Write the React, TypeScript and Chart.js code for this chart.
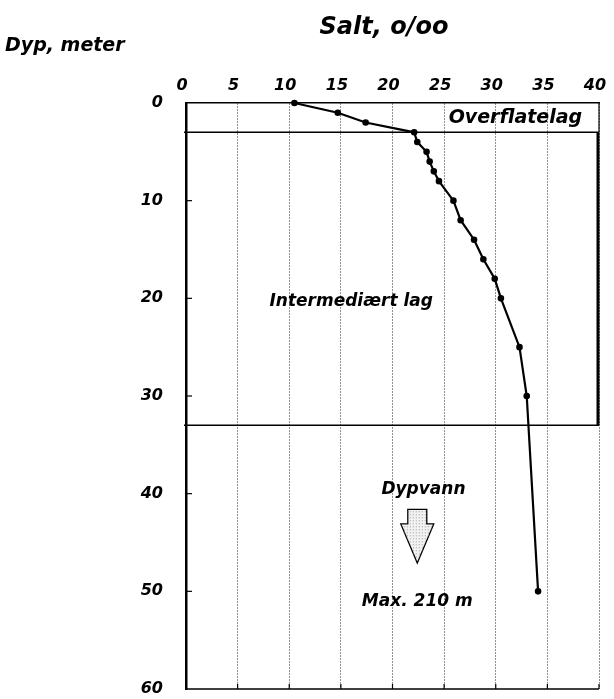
import React, { useEffect, useRef } from "react";
import { Chart, registerables } from "chart.js";

Chart.register(...registerables);

// Salinity profile (depth in metres, salinity in o/oo)
const depths = [0, 1, 2, 3, 4, 5, 6, 7, 8, 10, 12, 14, 16, 18, 20, 25, 30, 50];
const salinity = [10.5, 14.7, 17.4, 22.1, 22.4, 23.3, 23.6, 24.0, 24.5, 25.9, 26.6, 27.9, 28.8, 29.9, 30.5, 32.3, 33.0, 34.1];

const saltMin = 0;
const saltMax = 40;
const saltStep = 5;
const depthMin = 0;
const depthMax = 60;
const depthStep = 10;

// Layer boundaries (depth, m)
const layerBoundaries = [3, 33];
const layerNames = ["Overflatelag", "Intermediært lag", "Dypvann"];
const maxDepthLabel = "Max. 210 m";
const xTitle = "Salt, o/oo";
const yTitle = "Dyp, meter";

const FONT = "'DejaVu Sans', sans-serif";

export default function App() {
  const ref = useRef<HTMLCanvasElement | null>(null);

  useEffect(() => {
    const canvas = ref.current;
    if (!canvas) return;

    const overlay = {
      id: "overlay",
      beforeDatasetsDraw(chart: any) {
        const { ctx, chartArea: a, scales } = chart;
        const xs = scales.x;
        const ys = scales.y;
        ctx.save();
        ctx.strokeStyle = "#000";
        // bottom axis line
        ctx.lineWidth = 1.5;
        ctx.beginPath();
        ctx.moveTo(a.left, a.bottom);
        ctx.lineTo(a.right, a.bottom);
        ctx.stroke();
        // short solid ticks at bottom for each grid line
        ctx.lineWidth = 1.2;
        for (let v = saltMin + saltStep; v <= saltMax; v += saltStep) {
          const px = xs.getPixelForValue(v);
          ctx.beginPath();
          ctx.moveTo(px, a.bottom);
          ctx.lineTo(px, a.bottom - 5);
          ctx.stroke();
        }
        // inward ticks on depth axis
        ctx.lineWidth = 1.2;
        for (let d = depthMin + depthStep; d < depthMax; d += depthStep) {
          const py = ys.getPixelForValue(d);
          ctx.beginPath();
          ctx.moveTo(a.left, py);
          ctx.lineTo(a.left + 6, py);
          ctx.stroke();
        }
        // layer boundary lines
        ctx.lineWidth = 1.5;
        layerBoundaries.forEach((d) => {
          const py = ys.getPixelForValue(d);
          ctx.beginPath();
          ctx.moveTo(a.left - 2, py);
          ctx.lineTo(a.right, py);
          ctx.stroke();
        });
        // top right edge thin, intermediate box thick
        ctx.lineWidth = 1.2;
        ctx.beginPath();
        ctx.moveTo(a.right, ys.getPixelForValue(depthMin));
        ctx.lineTo(a.right, ys.getPixelForValue(layerBoundaries[0]));
        ctx.stroke();
        ctx.lineWidth = 3;
        ctx.beginPath();
        ctx.moveTo(a.right - 1, ys.getPixelForValue(layerBoundaries[0]));
        ctx.lineTo(a.right - 1, ys.getPixelForValue(layerBoundaries[1]));
        ctx.stroke();
        ctx.restore();
      },
      afterDraw(chart: any) {
        const { ctx, scales } = chart;
        const xs = scales.x;
        const ys = scales.y;
        ctx.save();
        ctx.fillStyle = "#000";
        ctx.textBaseline = "middle";
        // titles
        ctx.font = `italic bold 24px ${FONT}`;
        ctx.textAlign = "center";
        ctx.fillText(xTitle, 384, 28);
        ctx.font = `italic bold 19px ${FONT}`;
        ctx.textAlign = "left";
        ctx.fillText(yTitle, 5, 46);

        // annotations
        ctx.font = `italic bold 19px ${FONT}`;
        ctx.textAlign = "center";
        ctx.fillText(layerNames[0], xs.getPixelForValue(31.9), ys.getPixelForValue(1.55));
        ctx.font = `italic bold 17px ${FONT}`;
        ctx.fillText(layerNames[1], xs.getPixelForValue(16.0), ys.getPixelForValue(20.3));
        ctx.fillText(layerNames[2], xs.getPixelForValue(23.0), ys.getPixelForValue(39.6));
        ctx.fillText(maxDepthLabel, xs.getPixelForValue(22.4), ys.getPixelForValue(51.0));

        // arrow
        const cx = xs.getPixelForValue(22.4);
        const top = ys.getPixelForValue(41.6);
        const headY = ys.getPixelForValue(43.1);
        const tip = ys.getPixelForValue(47.1);
        const sw = 9.5;
        const hw = 16.5;
        ctx.beginPath();
        ctx.moveTo(cx - sw, top);
        ctx.lineTo(cx + sw, top);
        ctx.lineTo(cx + sw, headY);
        ctx.lineTo(cx + hw, headY);
        ctx.lineTo(cx, tip);
        ctx.lineTo(cx - hw, headY);
        ctx.lineTo(cx - sw, headY);
        ctx.closePath();
        ctx.fillStyle = "#f2f2f2";
        ctx.fill();
        ctx.lineWidth = 1.3;
        ctx.strokeStyle = "#000";
        ctx.stroke();
        // dotted fill texture
        ctx.save();
        ctx.clip();
        ctx.fillStyle = "#9a9a9a";
        for (let yy = top + 2; yy < tip; yy += 3) {
          for (let xx = cx - hw; xx < cx + hw; xx += 3) {
            ctx.fillRect(xx, yy, 1, 1);
          }
        }
        ctx.restore();
        ctx.restore();
      },
    };

    const chart = new Chart(canvas, {
      type: "scatter",
      data: {
        datasets: [
          {
            data: depths.map((d, i) => ({ x: salinity[i], y: d })),
            showLine: true,
            borderColor: "#000",
            backgroundColor: "#000",
            borderWidth: 2.2,
            pointRadius: 2.2,
            pointBackgroundColor: "#000",
            pointBorderColor: "#000",
            clip: false as any,
          },
        ],
      },
      options: {
        animation: false,
        responsive: false,
        events: [],
        layout: { padding: { left: 0, top: 0, right: 15, bottom: 10 } },
        plugins: {
          legend: { display: false },
          tooltip: { enabled: false },
          title: { display: false },
        },
        scales: {
          x: {
            type: "linear",
            position: "top",
            min: saltMin,
            max: saltMax,
            ticks: {
              stepSize: saltStep,
              color: "#000",
              padding: 8,
              labelOffset: -4,
              maxRotation: 0,
              font: { family: FONT, size: 16, weight: "bold", style: "italic" },
            },
            grid: {
              drawTicks: false,
              color: "#222",
              lineWidth: 1,
            },
            border: { display: true, color: "#000", width: 1.5, dash: [1, 2] },
            afterFit: (s: any) => {
              s.height = 103;
              s.paddingLeft = 0;
              s.paddingRight = 0;
            },
          },
          y: {
            type: "linear",
            reverse: true,
            min: depthMin,
            max: depthMax,
            ticks: {
              stepSize: depthStep,
              color: "#000",
              padding: 23,
              font: { family: FONT, size: 16, weight: "bold", style: "italic" },
            },
            grid: { display: true, drawOnChartArea: false, drawTicks: false },
            border: { display: true, color: "#000", width: 2.5 },
            afterFit: (s: any) => {
              s.width = 186;
              s.paddingTop = 0;
              s.paddingBottom = 0;
            },
          },
        },
      } as any,
      plugins: [overlay],
    });

    return () => chart.destroy();
  }, []);

  return (
    <canvas
      ref={ref}
      width={614}
      height={699}
      style={{ position: "fixed", left: 0, top: 0, width: 614, height: 699, display: "block", background: "#fff" }}
    />
  );
}
